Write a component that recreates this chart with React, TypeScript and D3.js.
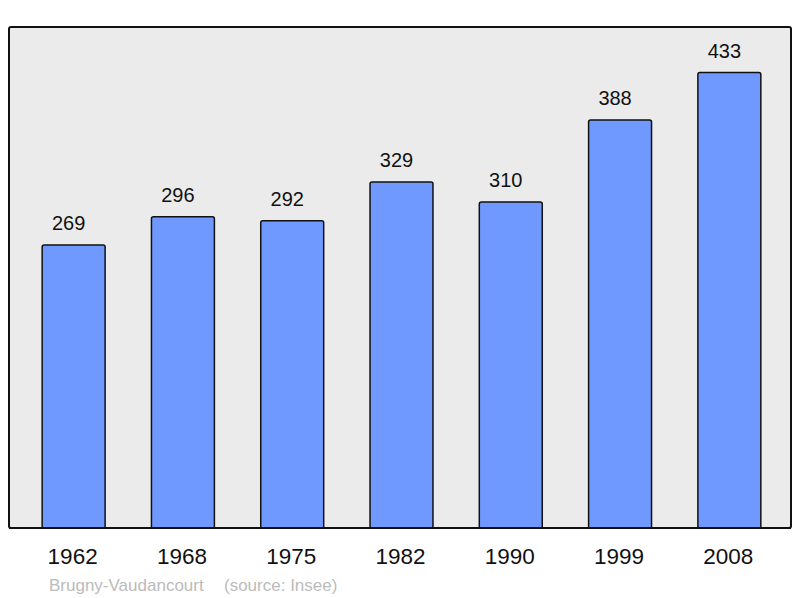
import React from "react"
import * as d3 from "d3"

const years = ["1962", "1968", "1975", "1982", "1990", "1999", "2008"]
const population = [269, 296, 292, 329, 310, 388, 433]
const commune = "Brugny-Vaudancourt"
const source = "(source: Insee)"

const W = 800
const H = 598
const panel = { left: 9, top: 27, right: 791, bottom: 528 }

export default function App() {
    const x = d3
        .scaleBand()
        .domain(years)
        .range([19, 784])
        .paddingInner(0.424)
        .paddingOuter(0.212)
    const y = d3
        .scaleLinear()
        .domain([0, d3.max(population)! * 1.1])
        .range([panel.bottom, panel.top])

    // bar path with slightly rounded top corners
    const barPath = (x0: number, y0: number, w: number, y1: number) => {
        const r = 2
        return `M${x0},${y1} L${x0},${y0 + r} Q${x0},${y0} ${x0 + r},${y0} L${x0 + w - r},${y0} Q${x0 + w},${y0} ${x0 + w},${y0 + r} L${x0 + w},${y1}`
    }

    return (
        <svg
            width={W}
            height={H}
            style={{ position: "absolute", left: 0, top: 0, background: "#fff" }}
            fontFamily="'Liberation Sans', Arial, sans-serif"
        >
            <rect
                x={panel.left}
                y={panel.top}
                width={panel.right - panel.left}
                height={panel.bottom - panel.top}
                rx={2}
                fill="#ebebeb"
                stroke="#111"
                strokeWidth={2}
            />
            {years.map((yr, i) => {
                const x0 = x(yr)!
                const v = population[i]
                return (
                    <g key={yr}>
                        <path
                            d={barPath(x0, y(v), x.bandwidth(), panel.bottom)}
                            fill="#7099ff"
                            stroke="#111"
                            strokeWidth={1.5}
                        />
                        <text
                            x={x0 + x.bandwidth() / 2 - 5}
                            y={y(v) - 15}
                            textAnchor="middle"
                            fontSize={20}
                            fill="#111"
                        >
                            {v}
                        </text>
                        <text
                            x={x0 + x.bandwidth() / 2 - 1}
                            y={564}
                            textAnchor="middle"
                            fontSize={22.5}
                            fill="#111"
                        >
                            {yr}
                        </text>
                    </g>
                )
            })}
            <line
                x1={panel.left}
                x2={panel.right}
                y1={panel.bottom}
                y2={panel.bottom}
                stroke="#111"
                strokeWidth={2}
            />
            <text x={49} y={590.5} fontSize={17} fill="#bbbbbb">
                {commune}
            </text>
            <text x={224} y={590.5} fontSize={17} fill="#bbbbbb">
                {source}
            </text>
        </svg>
    )
}
